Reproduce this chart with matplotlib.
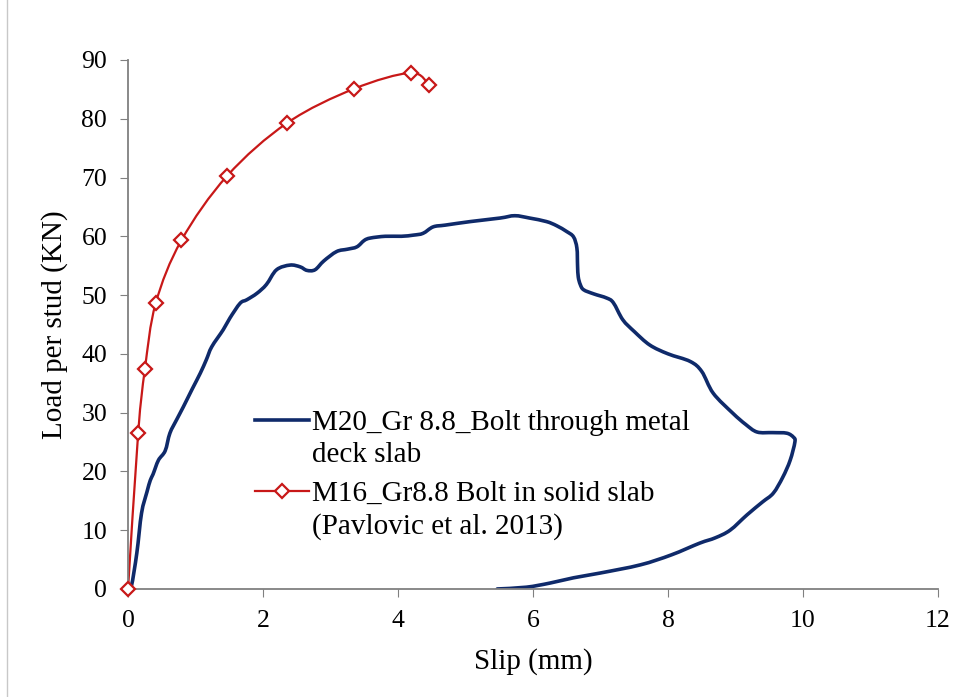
import matplotlib
matplotlib.use("Agg")
import matplotlib.pyplot as plt
import numpy as np
from matplotlib.lines import Line2D
from matplotlib.path import Path
from matplotlib.patches import PathPatch
from matplotlib.legend_handler import HandlerLine2D

# Blue curve: M20 bolt through metal deck slab
deck_slip = [0.0, 0.05, 0.13, 0.20, 0.28, 0.33, 0.37, 0.45, 0.55, 0.62, 0.72, 0.82, 0.95,
             1.07, 1.16, 1.24, 1.41, 1.51, 1.66, 1.76, 1.91, 2.05, 2.20, 2.40, 2.55,
             2.65, 2.77, 2.90, 3.09, 3.25, 3.39, 3.50, 3.59, 3.81, 4.05, 4.23, 4.37,
             4.52, 4.70, 5.07, 5.51, 5.73, 5.95, 6.20, 6.35, 6.50, 6.60, 6.65, 6.66,
             6.67, 6.70, 6.75, 6.90, 7.09, 7.19, 7.33, 7.50, 7.73, 8.00, 8.33, 8.50,
             8.67, 8.96, 9.15, 9.32, 9.55, 9.76, 9.86, 9.88, 9.81, 9.70, 9.56, 9.40,
             9.17, 8.92, 8.70, 8.47, 8.05, 7.59, 6.99, 6.60, 6.25, 5.90, 5.47]
deck_load = [0.0, 0.5, 6.1, 12.9, 16.5, 18.5, 19.5, 21.9, 23.5, 26.5, 28.8, 31.0, 34.0,
             36.7, 39.0, 41.2, 44.1, 46.1, 48.6, 49.2, 50.3, 51.8, 54.3, 55.1, 54.8,
             54.2, 54.3, 55.8, 57.4, 57.8, 58.2, 59.3, 59.7, 60.0, 60.0, 60.2, 60.5,
             61.6, 61.9, 62.5, 63.1, 63.5, 63.1, 62.5, 61.8, 60.8, 59.9, 58.0, 55.0,
             53.1, 51.8, 50.9, 50.2, 49.5, 48.7, 45.8, 43.8, 41.5, 40.0, 38.7, 37.0,
             33.3, 29.9, 28.0, 26.7, 26.6, 26.5, 25.8, 25.0, 21.9, 19.0, 16.3, 14.8,
             12.6, 10.0, 8.7, 7.8, 5.8, 4.1, 2.7, 1.9, 1.0, 0.3, 0.0]

# Red curve: M16 bolt in solid slab (Pavlovic et al. 2013)
solid_slip = [0.0, 0.15, 0.25, 0.41, 0.79, 1.47, 2.36, 3.35, 4.19, 4.46]
solid_load = [0.0, 26.5, 37.4, 48.6, 59.3, 70.3, 79.3, 85.1, 87.8, 85.7]

legend_labels = ["M20_Gr 8.8_Bolt through metal\ndeck slab",
                 "M16_Gr8.8 Bolt in solid slab\n(Pavlovic et al. 2013)"]

BLUE = "#0f2a6a"
RED = "#c81818"


def smooth_path(ax, x, y, tension=1 / 6):
    # Excel-style smoothed line: cubic Bezier through the points (Catmull-Rom),
    # control points built in display space so both axes scale equally
    pts = ax.transData.transform(np.column_stack([x, y]))
    p = np.vstack([pts[0], pts, pts[-1]])
    verts = [pts[0]]
    codes = [Path.MOVETO]
    for i in range(1, len(p) - 2):
        c1 = p[i] + (p[i + 1] - p[i - 1]) * tension
        c2 = p[i + 1] - (p[i + 2] - p[i]) * tension
        verts += [c1, c2, p[i + 1]]
        codes += [Path.CURVE4] * 3
    verts = ax.transData.inverted().transform(np.array(verts))
    return Path(verts, codes)


class FirstLineHandler(HandlerLine2D):
    # put the legend key next to the first line of a two-line label (like Excel)
    def create_artists(self, legend, orig_handle, xdescent, ydescent,
                       width, height, fontsize, trans):
        artists = super().create_artists(legend, orig_handle, xdescent, ydescent,
                                         width, height, fontsize, trans)
        for a in artists:
            a.set_ydata(np.asarray(a.get_ydata()) + 0.66 * fontsize)
        return artists


plt.rcParams["font.family"] = ["Liberation Serif", "DejaVu Serif"]

fig = plt.figure(figsize=(9.7, 6.97), dpi=100)
ax = fig.add_axes([0.132, 0.155, 0.835, 0.759])
ax.set_xlim(0, 12)
ax.set_ylim(0, 90)

ax.add_patch(PathPatch(smooth_path(ax, deck_slip, deck_load), fill=False,
                       edgecolor=BLUE, lw=2.6, joinstyle="round", capstyle="round"))
ax.add_patch(PathPatch(smooth_path(ax, solid_slip, solid_load), fill=False,
                       edgecolor=RED, lw=1.6))
ax.plot(solid_slip, solid_load, ls="none", marker="D", markersize=7,
        markerfacecolor="white", markeredgecolor=RED, markeredgewidth=1.6,
        clip_on=False, zorder=3)

ax.set_xticks(range(0, 13, 2))
ax.set_yticks(range(0, 91, 10))
ax.tick_params(labelsize=18.5, direction="out", length=6, color="#808080", pad=9)
for s in ["top", "right"]:
    ax.spines[s].set_visible(False)
for s in ["left", "bottom"]:
    ax.spines[s].set_color("#808080")
    ax.spines[s].set_linewidth(1.3)

ax.set_xlabel("Slip (mm)", fontsize=21, labelpad=12)
ax.set_ylabel("Load per stud (KN)", fontsize=21, labelpad=10)

handles = [
    Line2D([], [], color=BLUE, lw=2.6),
    Line2D([], [], color=RED, lw=1.6, marker="D", markersize=7,
           markerfacecolor="white", markeredgecolor=RED, markeredgewidth=1.6),
]
leg = ax.legend(handles, legend_labels, loc="upper left", bbox_to_anchor=(0.142, 0.36),
                frameon=False, fontsize=21, handlelength=1.85, handletextpad=0.1,
                labelspacing=0.45, borderaxespad=0,
                handler_map={Line2D: FirstLineHandler()})
for t in leg.get_texts():
    t.set_linespacing(1.3)

fig.add_artist(Line2D([7 / 970, 7 / 970], [0, 1], color="#c8c8c8", lw=1,
                      transform=fig.transFigure))

fig.savefig("out.png", dpi=100)
